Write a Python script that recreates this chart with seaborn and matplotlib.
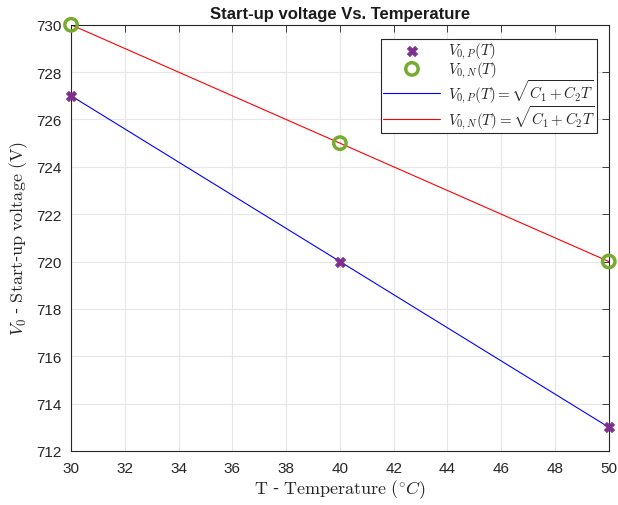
import matplotlib
matplotlib.use("Agg")
import matplotlib.pyplot as plt
import seaborn as sns
import pandas as pd

temps = [30, 40, 50]
v_p = [727, 720, 713]
v_n = [730, 725, 720]
xticks = list(range(30, 51, 2))
yticks = list(range(712, 731, 2))

sns.set_style("whitegrid")
plt.rcParams['font.family'] = ['Liberation Sans', 'DejaVu Sans']
plt.rcParams['mathtext.fontset'] = 'cm'

fig = plt.figure(figsize=(6.18, 5.06), dpi=100)
ax = fig.add_axes([0.115, 0.107, 0.870, 0.842])

df = pd.DataFrame({"T": temps, "P": v_p, "N": v_n})

sns.scatterplot(data=df, x="T", y="P", ax=ax, marker="X", s=55, color="#7E2F8E",
                edgecolor="#7E2F8E", linewidth=0.5, label=r"$V_{0,P}(T)$", zorder=5, clip_on=False)
sns.scatterplot(data=df, x="T", y="N", ax=ax, marker="o", s=80, facecolor="none",
                edgecolor="#77AC30", linewidth=2.5, label=r"$V_{0,N}(T)$", zorder=5, clip_on=False)
sns.lineplot(data=df, x="T", y="P", ax=ax, color="#0000FF", linewidth=0.8,
             label=r"$V_{0,P}(T) = \sqrt{C_1 + C_2 T}$")
sns.lineplot(data=df, x="T", y="N", ax=ax, color="#FF0000", linewidth=0.8,
             label=r"$V_{0,N}(T) = \sqrt{C_1 + C_2 T}$")

ax.set_xlim(30, 50)
ax.set_ylim(712, 730)
ax.set_xticks(xticks)
ax.set_yticks(yticks)
ax.grid(True, color="#E6E6E6", linewidth=0.8)
for s in ax.spines.values():
    s.set_visible(True)
    s.set_color("#262626")
    s.set_linewidth(0.8)
ax.tick_params(direction="in", length=5, width=0.6, top=True, right=True,
               labelsize=11, colors="#262626", labelcolor="#262626", pad=7)
ax.set_xlabel(r"$\mathrm{T}$ - $\mathrm{Temperature}\ (^{\circ}C)$", fontsize=13, color="#262626", labelpad=2)
ax.set_ylabel(r"$V_0$ - $\mathrm{Start}$-$\mathrm{up\ voltage}\ (\mathrm{V})$", fontsize=13, color="#262626", labelpad=4)
ax.set_title("Start-up voltage Vs. Temperature", fontsize=12, fontweight="bold", color="#1a1a1a", pad=5)

leg = ax.legend(loc="upper right", bbox_to_anchor=(0.978, 0.967), fancybox=False, framealpha=1,
                edgecolor="#262626", fontsize=10.8, handlelength=3.8, borderpad=0.15,
                labelspacing=-0.12, handletextpad=0.5, borderaxespad=0)
leg.get_frame().set_linewidth(0.8)

fig.savefig("out.png", dpi=100)
